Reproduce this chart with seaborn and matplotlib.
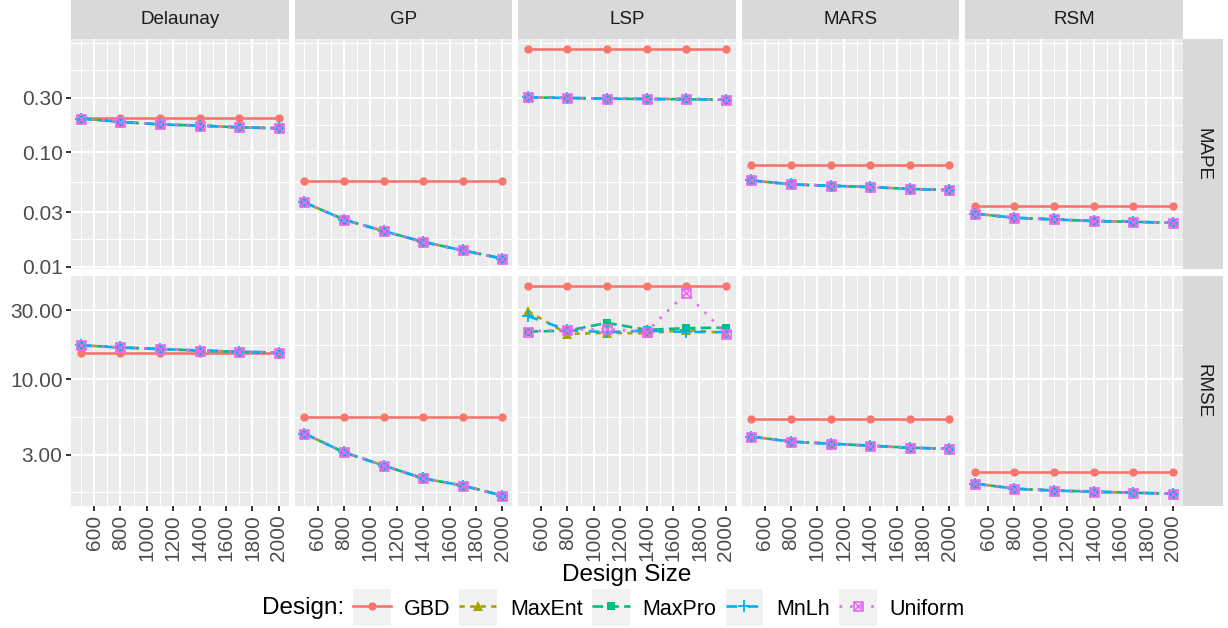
import numpy as np
import pandas as pd
import seaborn as sns
import matplotlib
matplotlib.use("Agg")
import matplotlib.pyplot as plt
from matplotlib.path import Path
from matplotlib.patches import Rectangle
from matplotlib.lines import Line2D
from matplotlib.legend_handler import HandlerLine2D
from matplotlib.ticker import FixedLocator, FixedFormatter, NullFormatter

# ---------------------------------------------------------------- data
design_sizes = [500, 800, 1100, 1400, 1700, 2000]
models = ["Delaunay", "GP", "LSP", "MARS", "RSM"]
metrics = ["MAPE", "RMSE"]
designs = ["GBD", "MaxEnt", "MaxPro", "MnLh", "Uniform"]

x_ticks = [600, 800, 1000, 1200, 1400, 1600, 1800, 2000]
mape_ticks = [0.01, 0.03, 0.10, 0.30]
mape_tick_labels = ["0.01", "0.03", "0.10", "0.30"]
rmse_ticks = [3, 10, 30]
rmse_tick_labels = ["3.00", "10.00", "30.00"]

mape_delaunay = {
    "GBD":     [0.200, 0.200, 0.200, 0.200, 0.200, 0.200],
    "MaxEnt":  [0.197, 0.184, 0.175, 0.171, 0.165, 0.162],
    "MaxPro":  [0.197, 0.184, 0.175, 0.171, 0.165, 0.162],
    "MnLh":    [0.197, 0.184, 0.175, 0.171, 0.165, 0.162],
    "Uniform": [0.197, 0.184, 0.175, 0.171, 0.165, 0.162],
}
mape_gp = {
    "GBD":     [0.056, 0.056, 0.056, 0.056, 0.056, 0.056],
    "MaxEnt":  [0.0365, 0.0258, 0.0205, 0.0165, 0.0139, 0.0118],
    "MaxPro":  [0.0365, 0.0258, 0.0205, 0.0165, 0.0139, 0.0118],
    "MnLh":    [0.0365, 0.0258, 0.0205, 0.0165, 0.0139, 0.0118],
    "Uniform": [0.0365, 0.0258, 0.0205, 0.0165, 0.0139, 0.0118],
}
mape_lsp = {
    "GBD":     [0.79, 0.79, 0.79, 0.79, 0.79, 0.79],
    "MaxEnt":  [0.302, 0.298, 0.294, 0.292, 0.292, 0.288],
    "MaxPro":  [0.302, 0.298, 0.294, 0.292, 0.290, 0.288],
    "MnLh":    [0.302, 0.298, 0.294, 0.292, 0.290, 0.288],
    "Uniform": [0.302, 0.298, 0.294, 0.292, 0.294, 0.288],
}
mape_mars = {
    "GBD":     [0.0768, 0.0768, 0.0768, 0.0768, 0.0768, 0.0768],
    "MaxEnt":  [0.0568, 0.0524, 0.0510, 0.0497, 0.0478, 0.0468],
    "MaxPro":  [0.0568, 0.0524, 0.0510, 0.0497, 0.0478, 0.0468],
    "MnLh":    [0.0568, 0.0524, 0.0510, 0.0497, 0.0478, 0.0468],
    "Uniform": [0.0568, 0.0524, 0.0510, 0.0497, 0.0478, 0.0468],
}
mape_rsm = {
    "GBD":     [0.0339, 0.0339, 0.0339, 0.0339, 0.0339, 0.0339],
    "MaxEnt":  [0.0291, 0.0268, 0.0259, 0.0251, 0.0247, 0.0242],
    "MaxPro":  [0.0291, 0.0268, 0.0259, 0.0251, 0.0247, 0.0242],
    "MnLh":    [0.0291, 0.0268, 0.0259, 0.0251, 0.0247, 0.0242],
    "Uniform": [0.0291, 0.0268, 0.0259, 0.0251, 0.0247, 0.0242],
}

rmse_delaunay = {
    "GBD":     [15.3, 15.3, 15.3, 15.3, 15.3, 15.3],
    "MaxEnt":  [17.2, 16.6, 16.2, 15.8, 15.5, 15.3],
    "MaxPro":  [17.2, 16.6, 16.2, 15.8, 15.5, 15.3],
    "MnLh":    [17.2, 16.6, 16.2, 15.8, 15.5, 15.3],
    "Uniform": [17.2, 16.6, 16.2, 15.8, 15.5, 15.3],
}
rmse_gp = {
    "GBD":     [5.44, 5.44, 5.44, 5.44, 5.44, 5.44],
    "MaxEnt":  [4.20, 3.11, 2.52, 2.05, 1.83, 1.56],
    "MaxPro":  [4.20, 3.11, 2.52, 2.05, 1.83, 1.56],
    "MnLh":    [4.20, 3.11, 2.52, 2.05, 1.83, 1.56],
    "Uniform": [4.20, 3.11, 2.52, 2.05, 1.83, 1.56],
}
rmse_lsp = {
    "GBD":     [44.0, 44.0, 44.0, 44.0, 44.0, 44.0],
    "MaxEnt":  [29.7, 20.6, 21.0, 20.8, 22.0, 20.9],
    "MaxPro":  [21.4, 21.7, 24.6, 22.0, 22.6, 22.8],
    "MnLh":    [27.4, 21.9, 21.2, 21.7, 21.3, 21.2],
    "Uniform": [21.4, 22.1, 22.2, 21.4, 39.7, 20.6],
}
rmse_mars = {
    "GBD":     [5.33, 5.33, 5.33, 5.33, 5.33, 5.33],
    "MaxEnt":  [4.00, 3.69, 3.57, 3.46, 3.35, 3.29],
    "MaxPro":  [4.00, 3.69, 3.57, 3.46, 3.35, 3.29],
    "MnLh":    [4.00, 3.69, 3.57, 3.46, 3.35, 3.29],
    "Uniform": [4.00, 3.69, 3.57, 3.46, 3.35, 3.29],
}
rmse_rsm = {
    "GBD":     [2.29, 2.29, 2.29, 2.29, 2.29, 2.29],
    "MaxEnt":  [1.89, 1.74, 1.69, 1.66, 1.63, 1.61],
    "MaxPro":  [1.89, 1.74, 1.69, 1.66, 1.63, 1.61],
    "MnLh":    [1.89, 1.74, 1.69, 1.66, 1.63, 1.61],
    "Uniform": [1.89, 1.74, 1.69, 1.66, 1.63, 1.61],
}

results = {
    ("MAPE", "Delaunay"): mape_delaunay, ("MAPE", "GP"): mape_gp,
    ("MAPE", "LSP"): mape_lsp, ("MAPE", "MARS"): mape_mars,
    ("MAPE", "RSM"): mape_rsm,
    ("RMSE", "Delaunay"): rmse_delaunay, ("RMSE", "GP"): rmse_gp,
    ("RMSE", "LSP"): rmse_lsp, ("RMSE", "MARS"): rmse_mars,
    ("RMSE", "RSM"): rmse_rsm,
}

rows = []
for (metric, model), table in results.items():
    for design, vals in table.items():
        for n, v in zip(design_sizes, vals):
            rows.append((metric, model, design, n, v))
df = pd.DataFrame(rows, columns=["metric", "model", "design", "size", "value"])

# ---------------------------------------------------------------- style
plt.rcParams["font.family"] = ["Liberation Sans", "DejaVu Sans"]

colors = dict(zip(designs, ["#F8766D", "#A3A500", "#00BF7D", "#00B0F6", "#E76BF3"]))

boxed_x = Path(
    [(-1, -1), (1, -1), (1, 1), (-1, 1), (0, 0), (-1, -1), (1, 1), (-1, 1), (1, -1)],
    [Path.MOVETO, Path.LINETO, Path.LINETO, Path.LINETO, Path.CLOSEPOLY,
     Path.MOVETO, Path.LINETO, Path.MOVETO, Path.LINETO],
)

LW = 1.9
styles = {
    "GBD":     dict(ls="-",          marker="o",     ms=6.0, mfc=colors["GBD"],    mew=0.0),
    "MaxEnt":  dict(ls=(0, (2, 2)),  marker="^",     ms=6.5, mfc=colors["MaxEnt"], mew=0.0),
    "MaxPro":  dict(ls=(0, (4, 2)),  marker="s",     ms=5.8, mfc=colors["MaxPro"], mew=0.0),
    "MnLh":    dict(ls=(0, (4, 4)),  marker="+",     ms=9.0, mfc="none",           mew=1.3),
    "Uniform": dict(ls=(0, (1, 3)),  marker=boxed_x, ms=6.5, mfc="none",           mew=1.2),
}

W, H = 1228, 628
fig = plt.figure(figsize=(W / 100, H / 100), dpi=100)

left0, panel_w, gap_x = 71.0, 217.7, 5.8
row_tops = [39.0, 276.0]
panel_h = 230.0
strip_top_h = 39.0
strip_right_w = 40.0

x_lim = (425, 2075)
x_minor = [500, 700, 900, 1100, 1300, 1500, 1700, 1900]

row_ticks = {"MAPE": (mape_ticks, mape_tick_labels), "RMSE": (rmse_ticks, rmse_tick_labels)}

TICK_SIZE = 15
STRIP_SIZE = 13.5
TITLE_SIZE = 17.5
LEGEND_SIZE = 15.5


def log_limits(values):
    lo, hi = np.log10(np.min(values)), np.log10(np.max(values))
    pad = 0.05 * (hi - lo)
    return 10 ** (lo - pad), 10 ** (hi + pad)


def log_minor_breaks(majors, lims):
    b = list(np.log10(majors))
    lo, hi = np.log10(lims[0]), np.log10(lims[1])
    bd = b[1] - b[0]
    if lo < b[0]:
        b = [b[0] - bd] + b
    if hi > b[-1]:
        b = b + [b[-1] + bd]
    out = []
    for a, c in zip(b[:-1], b[1:]):
        out += [a, (a + c) / 2]
    out.append(b[-1])
    return [10 ** v for v in out if lo <= v <= hi]


TICK_COLOR = "#333333"
TEXT_COLOR = "#4D4D4D"

for i, metric in enumerate(metrics):
    row_df = df[df.metric == metric]
    ylim = log_limits(row_df["value"].values)
    majors, major_labels = row_ticks[metric]
    minors = log_minor_breaks(majors, ylim)
    for j, model in enumerate(models):
        x0 = left0 + j * (panel_w + gap_x)
        y0 = row_tops[i]
        ax = fig.add_axes([x0 / W, 1 - (y0 + panel_h) / H, panel_w / W, panel_h / H])
        ax.set_facecolor("#EBEBEB")
        for s in ax.spines.values():
            s.set_visible(False)

        panel = row_df[row_df.model == model]
        for d in designs:
            st = styles[d]
            sns.lineplot(
                data=panel[panel.design == d], x="size", y="value", ax=ax,
                errorbar=None, legend=False, color=colors[d],
                linestyle=st["ls"], linewidth=LW,
                marker=st["marker"], markersize=st["ms"],
                markerfacecolor=st["mfc"], markeredgecolor=colors[d],
                markeredgewidth=st["mew"], zorder=3,
            )

        ax.set_yscale("log")
        ax.set_xlim(*x_lim)
        ax.set_ylim(*ylim)
        ax.set_xlabel("")
        ax.set_ylabel("")

        ax.xaxis.set_major_locator(FixedLocator(x_ticks))
        ax.xaxis.set_minor_locator(FixedLocator(x_minor))
        ax.yaxis.set_major_locator(FixedLocator(majors))
        ax.yaxis.set_major_formatter(FixedFormatter(major_labels))
        ax.yaxis.set_minor_locator(FixedLocator(minors))
        ax.yaxis.set_minor_formatter(NullFormatter())
        ax.xaxis.set_minor_formatter(NullFormatter())

        ax.set_axisbelow(True)
        ax.grid(which="major", color="white", linewidth=1.5)
        ax.grid(which="minor", color="white", linewidth=0.75)
        ax.tick_params(which="minor", length=0)
        ax.tick_params(which="major", length=3.6, width=1.4, color=TICK_COLOR,
                       labelcolor=TEXT_COLOR, labelsize=TICK_SIZE, pad=2.5)

        if j == 0:
            ax.tick_params(axis="y", left=True, labelleft=True)
        else:
            ax.tick_params(axis="y", left=False, labelleft=False)
        if i == len(metrics) - 1:
            ax.tick_params(axis="x", bottom=True, labelbottom=True)
            for lab in ax.get_xticklabels():
                lab.set_rotation(90)
                lab.set_ha("center")
                lab.set_va("top")
        else:
            ax.tick_params(axis="x", bottom=False, labelbottom=False)

        # column strip on top
        if i == 0:
            sax = fig.add_axes([x0 / W, 1 - y0 / H, panel_w / W, strip_top_h / H])
            sax.set_facecolor("#D9D9D9")
            sax.set_xticks([]); sax.set_yticks([])
            for s in sax.spines.values():
                s.set_visible(False)
            sax.text(0.5, 0.5, model, ha="center", va="center",
                     fontsize=STRIP_SIZE, color="#1A1A1A", transform=sax.transAxes)

        # row strip on the right
        if j == len(models) - 1:
            rax = fig.add_axes([(x0 + panel_w) / W, 1 - (y0 + panel_h) / H,
                                strip_right_w / W, panel_h / H])
            rax.set_facecolor("#D9D9D9")
            rax.set_xticks([]); rax.set_yticks([])
            for s in rax.spines.values():
                s.set_visible(False)
            rax.text(0.5, 0.5, metric, ha="center", va="center", rotation=-90,
                     fontsize=STRIP_SIZE, color="#1A1A1A", transform=rax.transAxes)

panels_center = (left0 + (left0 + 5 * panel_w + 4 * gap_x)) / 2
fig.text(panels_center / W, 1 - 575 / H, "Design Size", ha="center", va="center",
         fontsize=TITLE_SIZE, color="black")


# ---------------------------------------------------------------- legend
class KeyHandler(HandlerLine2D):
    def create_artists(self, legend, orig_handle, xdescent, ydescent,
                       width, height, fontsize, trans):
        key_h = 27.0
        cy = height / 2 - ydescent
        bg = Rectangle((-xdescent, cy - key_h / 2), width, key_h,
                       facecolor="#F2F2F2", edgecolor="none", transform=trans)
        arts = super().create_artists(legend, orig_handle, xdescent, ydescent,
                                      width, height, fontsize, trans)
        return [bg] + list(arts)


handles = []
for d in designs:
    st = styles[d]
    handles.append(Line2D([], [], color=colors[d], linestyle=st["ls"], linewidth=LW,
                          marker=st["marker"], markersize=st["ms"],
                          markerfacecolor=st["mfc"], markeredgecolor=colors[d],
                          markeredgewidth=st["mew"]))

fig.text(262 / W, 1 - 608 / H, "Design:", ha="left", va="center", fontsize=TITLE_SIZE,
         color="black")
fig.legend(handles, designs, loc="center left", bbox_to_anchor=(353 / W, 1 - 608 / H),
           ncol=5, frameon=False, numpoints=1, handler_map={Line2D: KeyHandler()},
           handlelength=1.76, handleheight=1.2, handletextpad=0.6,
           columnspacing=0.42, fontsize=LEGEND_SIZE, borderpad=0, borderaxespad=0)

fig.savefig("out.png", dpi=100)
